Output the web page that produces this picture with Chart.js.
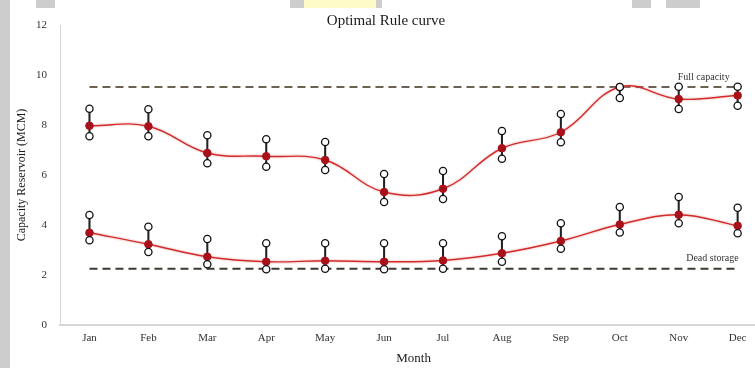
<!DOCTYPE html>
<html>
<head>
<meta charset="utf-8">
<script src="https://cdn.jsdelivr.net/npm/chart.js@4"></script>
<style>
  body { margin: 0; background: #fff; overflow: hidden; width: 755px; height: 368px; position: relative; }
  #wrap { position: absolute; left: 0; top: 0; }
  .band { position: absolute; background: #cdcdcd; }
</style>
</head>
<body>
<div id="wrap"><canvas id="rule" width="772" height="368"></canvas></div>
<!-- window frame strips -->
<div class="band" style="left:0;top:0;width:10px;height:368px"></div>
<div class="band" style="left:36px;top:0;width:19px;height:8px"></div>
<div class="band" style="left:290px;top:0;width:14px;height:8px"></div>
<div class="band" style="left:304px;top:0;width:72px;height:8px;background:#fffbc8"></div>
<div class="band" style="left:376px;top:0;width:6px;height:8px"></div>
<div class="band" style="left:632px;top:0;width:19px;height:8px"></div>
<div class="band" style="left:666px;top:0;width:34px;height:8px"></div>
<script>
const months = ['Jan', 'Feb', 'Mar', 'Apr', 'May', 'Jun', 'Jul', 'Aug', 'Sep', 'Oct', 'Nov', 'Dec'];

// upper rule curve (MCM)
const upperMean = [7.97, 7.95, 6.88, 6.75, 6.60, 5.32, 5.45, 7.07, 7.71, 9.52, 9.04, 9.18];
const upperHigh = [8.65, 8.63, 7.59, 7.43, 7.32, 6.04, 6.16, 7.76, 8.44, 9.52, 9.53, 9.53];
const upperLow  = [7.55, 7.55, 6.47, 6.33, 6.20, 4.92, 5.04, 6.65, 7.31, 9.08, 8.64, 8.77];

// lower rule curve (MCM)
const lowerMean = [3.69, 3.23, 2.73, 2.53, 2.57, 2.53, 2.58, 2.87, 3.36, 4.02, 4.41, 3.97];
const lowerHigh = [4.40, 3.93, 3.44, 3.27, 3.27, 3.27, 3.27, 3.55, 4.07, 4.72, 5.12, 4.69];
const lowerLow  = [3.39, 2.92, 2.43, 2.23, 2.25, 2.23, 2.25, 2.53, 3.05, 3.70, 4.07, 3.67];

// reservoir limits
const fullCapacity = [9.52, 9.52, 9.52, 9.52, 9.52, 9.52, 9.52, 9.52, 9.52, 9.52, 9.52, 9.52];
const deadStorage  = [2.25, 2.25, 2.25, 2.25, 2.25, 2.25, 2.25, 2.25, 2.25, 2.25, 2.25, 2.25];

const yTicks = [0, 2, 4, 6, 8, 10, 12];

const serif = 'Liberation Serif';

function ranges(lo, hi) {
    return lo.map((v, i) => [v, hi[i]]);
}

function limitLine(data, color, order) {
    return {
        type: 'line', data: data, borderColor: color, borderWidth: 2,
        borderDash: [8, 5], pointRadius: 0, fill: false, order: order
    };
}

function curve(data, color, width, order) {
    return {
        type: 'line', data: data, borderColor: color, borderWidth: width,
        tension: 0.4, pointRadius: 0, fill: false, order: order
    };
}

function dots(data, fill, stroke, r, bw, order) {
    return {
        type: 'line', data: data, showLine: false, pointRadius: r, pointHoverRadius: r,
        pointBackgroundColor: fill, pointBorderColor: stroke, pointBorderWidth: bw, order: order
    };
}

function whisker(lo, hi) {
    return {
        type: 'bar', data: ranges(lo, hi), backgroundColor: '#222',
        barThickness: 1.4, grouped: false, order: 3
    };
}

// title and the two limit labels
const textMarks = {
    id: 'textMarks',
    afterDraw(chart) {
        const ctx = chart.ctx;
        const x = chart.scales.x, y = chart.scales.y;
        ctx.save();
        ctx.fillStyle = '#1a1a1a';
        ctx.textAlign = 'center';
        ctx.textBaseline = 'middle';
        ctx.font = '15px "' + serif + '"';
        ctx.fillText('Optimal Rule curve', 386, 21);

        ctx.font = '10px "' + serif + '"';
        ctx.fillStyle = '#333';
        ctx.textAlign = 'right';
        ctx.fillText('Full capacity', x.getPixelForValue(11) - 8, y.getPixelForValue(fullCapacity[11]) - 10);
        ctx.fillText('Dead storage', x.getPixelForValue(11) + 1, y.getPixelForValue(deadStorage[11]) - 10);
        ctx.restore();
    }
};

new Chart(document.getElementById('rule').getContext('2d'), {
    data: {
        labels: months,
        datasets: [
            dots(upperHigh, '#fff', '#111', 3.6, 1.3, 0),
            dots(upperLow, '#fff', '#111', 3.6, 1.3, 0),
            dots(lowerHigh, '#fff', '#111', 3.6, 1.3, 0),
            dots(lowerLow, '#fff', '#111', 3.6, 1.3, 0),
            dots(upperMean, '#a8101a', '#a8101a', 3.8, 1, 1),
            dots(lowerMean, '#a8101a', '#a8101a', 3.8, 1, 1),
            whisker(upperLow, upperHigh),
            whisker(lowerLow, lowerHigh),
            curve(upperMean, '#d02a2a', 1.4, 4),
            curve(lowerMean, '#d02a2a', 1.4, 4),
            curve(upperMean, 'rgba(238,140,140,0.22)', 4, 5),
            curve(lowerMean, 'rgba(238,140,140,0.22)', 4, 5),
            limitLine(fullCapacity, '#6d6152', 6),
            limitLine(deadStorage, '#3e3a32', 6)
        ]
    },
    options: {
        responsive: false,
        animation: false,
        layout: { padding: { top: 25, right: 4, left: 0, bottom: 0 } },
        plugins: { legend: { display: false }, tooltip: { enabled: false } },
        scales: {
            x: {
                type: 'category',
                offset: true,
                grid: { display: false, drawTicks: false },
                border: { color: '#d6d6d6', width: 2 },
                ticks: { color: '#333', font: { family: serif, size: 11 }, padding: 7 },
                title: { display: true, text: 'Month', color: '#1a1a1a', font: { family: serif, size: 13 }, padding: { top: 0, bottom: 2 } },
                afterFit(s) { s.height = 43; }
            },
            y: {
                min: 0,
                max: 12,
                grid: { display: false, drawTicks: false },
                border: { color: '#d6d6d6', width: 1 },
                afterBuildTicks(s) { s.ticks = yTicks.map(v => ({ value: v })); },
                ticks: { color: '#333', font: { family: serif, size: 11 }, padding: 13 },
                title: { display: true, text: 'Capacity Reservoir (MCM)', color: '#1a1a1a', font: { family: serif, size: 12 }, padding: { top: 15, bottom: 0 } },
                afterFit(s) { s.width = 60; }
            }
        }
    },
    plugins: [textMarks]
});
</script>
</body>
</html>
